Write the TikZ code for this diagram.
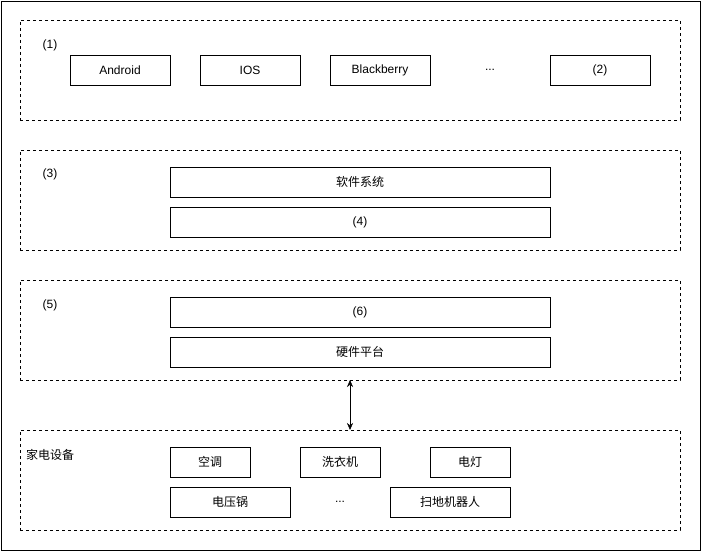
\documentclass[tikz,border=0pt]{standalone}
\usepackage{fontspec}
\setmainfont{Liberation Sans}
\newfontfamily\cjk{Noto Sans CJK SC}
\usepackage{tikz}
\usetikzlibrary{positioning, arrows.meta}

\begin{document}
\begin{tikzpicture}[x=1pt, y=-1pt, node distance=30pt, font=\fontsize{12}{14}\selectfont,
	box/.style={rectangle, draw, minimum height=30pt, inner sep=0pt, outer sep=0pt},
	layer/.style={rectangle, draw, dashed, minimum width=660pt, minimum height=100pt, inner sep=0pt, outer sep=0pt}]
		\useasboundingbox (0,0) rectangle (701,551);
		% Cadre
		\node[rectangle, draw, minimum width=699pt, minimum height=549pt, inner sep=0pt] (frame) at (350.5,275.5) {};
		
		% Couches
		\node[layer] (os) at (350,70) {};
		\node[layer] (soft) at (350,200) {};
		\node[layer] (hard) at (350,330) {};
		\node[layer] (home) at (350,480) {};
		
		\node (l1) at (50,45) {(1)};
		\node (l3) at (50,174) {(3)};
		\node (l5) at (50,305) {(5)};
		\node (l7) at (50,455) {\cjk 家电设备};
		
		% Systèmes
		\node[box, minimum width=100pt] (android) at (120,70) {Android};
		\node[box, minimum width=100pt, right=of android] (ios) {IOS};
		\node[box, minimum width=100pt, right=of ios] (blackberry) {Blackberry};
		\node (dots1) at (490,70) {...};
		\node[box, minimum width=100pt] (l2) at (600,70) {(2)};
		
		% Logiciel
		\node[box, minimum width=380pt] (software) at (360,182) {\cjk 软件系统};
		\node[box, minimum width=380pt, below=10pt of software] (l4) {(4)};
		
		% Matériel
		\node[box, minimum width=380pt] (l6) at (360,312) {(6)};
		\node[box, minimum width=380pt, below=10pt of l6] (hardware) {\cjk 硬件平台};
		
		% Appareils
		\node[box, minimum width=80pt] (aircon) at (210,462) {\cjk 空调};
		\node[box, minimum width=80pt, right=50pt of aircon] (washer) {\cjk 洗衣机};
		\node[box, minimum width=80pt, right=50pt of washer] (lamp) {\cjk 电灯};
		\node[box, minimum width=120pt] (cooker) at (230,502) {\cjk 电压锅};
		\node (dots2) at (340,502) {...};
		\node[box, minimum width=120pt] (robot) at (450,502) {\cjk 扫地机器人};
		
		% Flèche
		\draw[{Stealth[length=7pt, width=6pt]}-{Stealth[length=7pt, width=6pt]}] (hard.south) -- (home.north);
		
	\end{tikzpicture}
\end{document}
